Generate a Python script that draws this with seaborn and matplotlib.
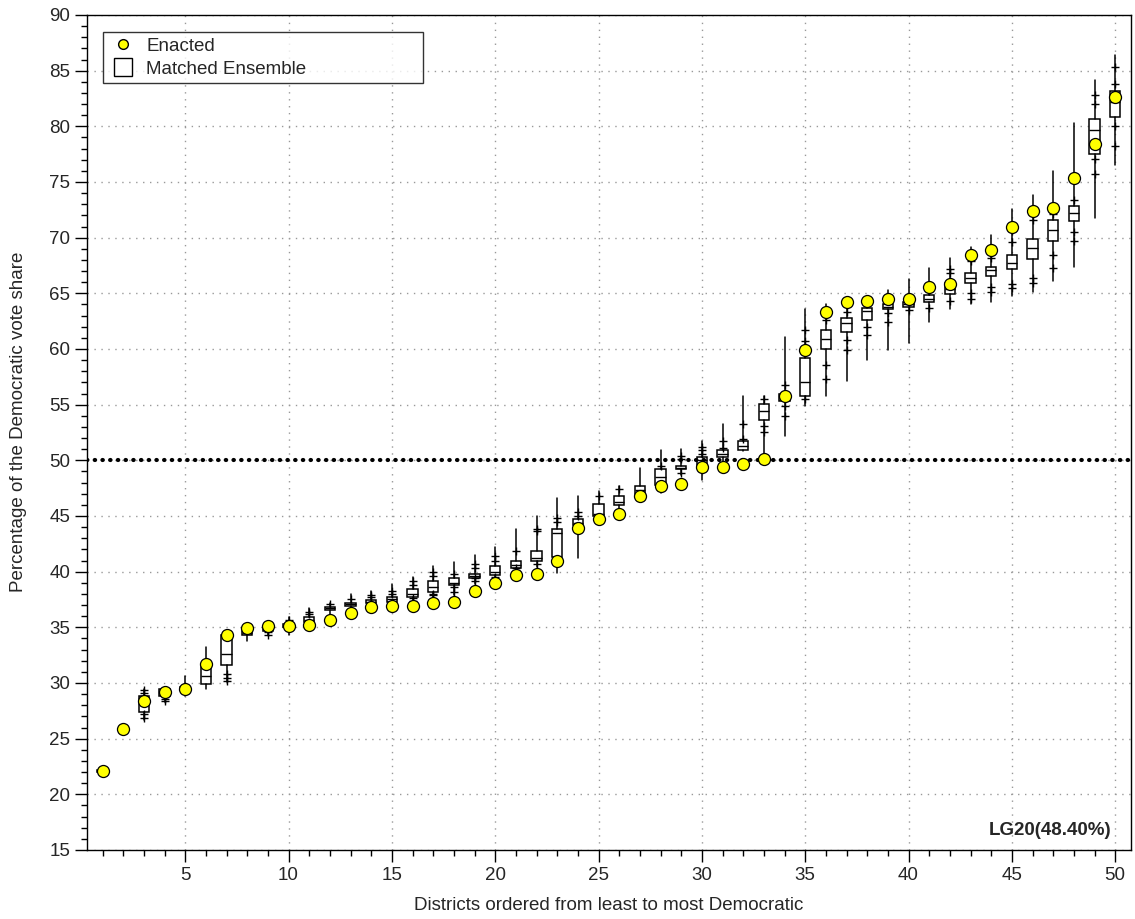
import numpy as np
import matplotlib
matplotlib.use("Agg")
import matplotlib.pyplot as plt
from matplotlib.lines import Line2D
from matplotlib.ticker import MultipleLocator
import seaborn as sns

# districts ordered from least to most Democratic
districts = list(range(1, 51))

enacted = [22.1, 25.9, 28.4, 29.2, 29.5, 31.7, 34.3, 34.9, 35.1, 35.16,
           35.2, 35.7, 36.3, 36.8, 36.9, 36.95, 37.2, 37.3, 38.3, 39.0,
           39.7, 39.75, 41.0, 43.9, 44.7, 45.2, 46.8, 47.7, 47.9, 49.4,
           49.4, 49.7, 50.1, 55.8, 59.95, 63.3, 64.2, 64.3, 64.5, 64.5,
           65.6, 65.8, 68.4, 68.9, 70.95, 72.4, 72.7, 75.4, 78.4, 82.6]

# ensemble box stats (lower quartile, median, upper quartile)
q1 = [22.0, 25.8, 27.35, 28.85, 29.4, 29.95, 31.6, 34.3, 34.7, 35.0,
      35.48, 36.56, 36.9, 37.16, 37.3, 37.7, 38.2, 38.8, 39.4, 39.67,
      40.36, 40.96, 41.35, 44.16, 45.0, 46.0, 46.9, 47.74, 49.2, 49.5,
      50.3, 50.97, 53.6, 55.3, 55.76, 60.0, 61.5, 62.6, 63.6, 63.8,
      64.2, 64.9, 65.9, 66.6, 67.2, 68.1, 69.7, 71.5, 77.5, 80.8]
med = [22.1, 25.85, 28.3, 29.1, 29.5, 30.6, 32.6, 34.5, 34.9, 35.15,
       35.7, 36.7, 37.05, 37.3, 37.55, 38.0, 38.6, 39.0, 39.6, 39.97,
       40.6, 41.2, 43.5, 44.4, 45.2, 46.3, 47.3, 48.5, 49.35, 50.0,
       50.6, 51.3, 54.4, 55.6, 57.0, 60.9, 62.3, 63.4, 63.8, 64.0,
       64.5, 65.4, 66.4, 67.06, 67.7, 69.1, 70.7, 72.2, 79.7, 82.2]
q3 = [22.2, 25.9, 28.85, 29.5, 29.6, 31.6, 34.3, 34.7, 35.1, 35.3,
      35.93, 36.8, 37.2, 37.46, 37.7, 38.4, 39.2, 39.4, 39.76, 40.5,
      40.96, 41.85, 43.86, 44.75, 46.1, 46.8, 47.7, 49.24, 49.5, 50.3,
      50.97, 51.75, 55.1, 56.0, 59.2, 61.74, 62.8, 63.7, 64.0, 64.2,
      64.85, 65.9, 66.8, 67.4, 68.4, 69.9, 71.6, 72.8, 80.7, 83.2]
# whisker ends (min / max of ensemble)
lo = [21.95, 25.75, 26.7, 28.3, 28.8, 29.5, 30.1, 33.8, 34.3, 34.35,
      35.3, 35.2, 36.6, 36.9, 37.0, 37.2, 37.6, 37.9, 38.9, 39.3,
      39.9, 40.4, 39.85, 41.2, 44.5, 45.5, 46.8, 47.1, 48.7, 48.2,
      49.8, 50.8, 50.1, 52.2, 54.9, 55.76, 57.1, 59.05, 59.95, 60.5,
      62.4, 63.6, 64.07, 64.2, 64.8, 65.1, 66.1, 67.4, 71.8, 76.5]
hi = [22.25, 25.95, 29.5, 29.6, 30.6, 33.2, 34.5, 34.9, 35.2, 35.9,
      36.7, 37.2, 38.0, 38.3, 38.9, 39.5, 40.5, 40.9, 41.5, 42.25,
      43.8, 45.0, 46.6, 46.8, 47.2, 47.7, 49.3, 50.97, 51.0, 51.7,
      53.3, 55.76, 55.8, 61.1, 63.6, 64.07, 64.2, 64.5, 65.3, 66.3,
      67.3, 68.2, 69.2, 70.2, 72.6, 73.8, 76.0, 80.3, 84.2, 86.4]
# "+" percentile marks along the whiskers
marks = [[], [], [26.85, 27.2, 29.1, 29.35], [28.35, 28.6], [], [],
         [30.2, 30.45, 30.8], [], [34.35, 34.6], [35.7],
         [36.2, 36.4], [37.1], [37.5], [37.7, 37.9], [38.0, 38.3],
         [37.4, 37.6, 38.8, 39.2], [37.9, 38.0, 39.6, 40.0], [38.2, 38.6, 39.8],
         [39.2, 39.45, 40.3, 40.7], [39.5, 41.0, 41.4],
         [40.1, 40.3, 41.85], [40.66, 43.65, 43.86], [44.46, 44.8], [45.0, 45.35],
         [46.8], [47.4], [], [49.5], [48.9, 50.1, 50.4], [50.6, 50.9, 51.2],
         [51.1, 51.7], [51.9, 53.3], [52.5, 53.1, 55.5], [54.0, 54.9, 56.8],
         [55.5, 60.7, 61.7], [57.3, 58.6, 62.6], [59.9, 60.8, 63.3],
         [61.3, 62.0, 64.1], [62.4, 63.2], [63.5],
         [63.7, 65.2], [64.3, 66.8, 67.2], [64.5, 65.0, 67.9, 68.3],
         [65.1, 65.6, 68.2], [65.5, 65.85, 69.6, 70.6], [65.9, 66.4, 71.6, 72.4],
         [67.3, 68.4, 72.1], [69.7, 70.5, 73.4], [75.7, 77.05, 82.0, 82.8],
         [78.25, 80.0, 83.8, 85.3]]

sns.set_style("ticks")
plt.rcParams['font.family'] = ['Liberation Sans', 'DejaVu Sans']

fig = plt.figure(figsize=(11.35, 9.19), dpi=100)
ax = fig.add_axes([0.0767, 0.0751, 0.9195, 0.9086])

stats = []
for i in range(len(districts)):
    stats.append({'med': med[i], 'q1': q1[i], 'q3': q3[i],
                  'whislo': lo[i], 'whishi': hi[i], 'fliers': marks[i]})

ax.bxp(stats, positions=districts, widths=0.5, patch_artist=True,
       showcaps=False,
       boxprops=dict(facecolor='white', edgecolor='black', linewidth=1.1),
       medianprops=dict(color='black', linewidth=1.0),
       whiskerprops=dict(color='black', linewidth=1.1),
       flierprops=dict(marker='+', markersize=6, markeredgecolor='black',
                       markeredgewidth=1.0),
       zorder=3)

sns.scatterplot(x=districts, y=enacted, color='#ffff00', edgecolor='black',
                linewidth=0.9, s=75, zorder=5, ax=ax, legend=False)

ax.axhline(50, color='black', linewidth=3, linestyle=(0, (0.1, 1.75)),
           dash_capstyle='round', zorder=4)

ax.set_xlim(0.25, 50.75)
ax.set_ylim(15, 90)
ax.xaxis.set_minor_locator(MultipleLocator(1))
ax.yaxis.set_major_locator(MultipleLocator(5))
ax.yaxis.set_minor_locator(MultipleLocator(1))
ax.set_xticks(range(5, 51, 5))
ax.set_xticklabels([str(v) for v in range(5, 51, 5)])
ax.tick_params(which='major', direction='out', length=8.5, width=1,
               labelsize=13.5, color='black')
ax.tick_params(which='minor', direction='out', length=4.5, width=1,
               color='black')
ax.grid(which='major', color='#999999', linestyle=(0, (1, 4)), linewidth=1)
ax.set_axisbelow(True)
for s in ax.spines.values():
    s.set_color('black')
    s.set_linewidth(1)
    s.set_visible(True)

ax.set_xlabel('Districts ordered from least to most Democratic', fontsize=13.5)
ax.set_ylabel('Percentage of the Democratic vote share', fontsize=13.5)
ax.xaxis.set_label_coords(0.5, -0.0563)
ax.yaxis.set_label_coords(-0.0575, 0.513)

ax.text(0.9818, 0.018, 'LG20(48.40%)', transform=ax.transAxes, ha='right',
        va='baseline', fontsize=13.5, fontweight='bold')

handles = [Line2D([], [], marker='o', linestyle='none', markersize=7,
                  markerfacecolor='#ffff00', markeredgecolor='black'),
           Line2D([], [], marker='s', linestyle='none', markersize=13,
                  markerfacecolor='white', markeredgecolor='black',
                  markeredgewidth=1)]
leg = ax.legend(handles, ['Enacted', 'Matched Ensemble'], loc='lower left',
                bbox_to_anchor=(0.0153, 0.918, 0.3065, 0.062), mode='expand',
                borderaxespad=0, fontsize=13.5, frameon=True, fancybox=False,
                handletextpad=0.5, labelspacing=0.31, borderpad=0.3,
                handlelength=1.5)
leg.get_frame().set_edgecolor('black')
leg.get_frame().set_linewidth(1)

fig.savefig('out.png', dpi=100)
